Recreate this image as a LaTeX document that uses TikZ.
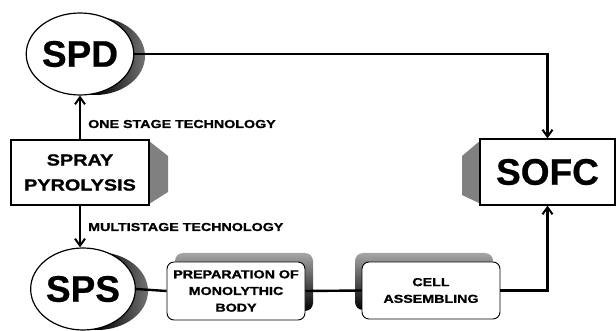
\documentclass[tikz,border=0pt]{standalone}
\usepackage{fontspec}
\setmainfont{Liberation Sans}
\newfontfamily\widefont[FakeStretch=1.24,FakeBold=1.2]{Liberation Sans Bold}
\newfontfamily\bigfont[FakeBold=0.6]{Liberation Sans Bold}
\usetikzlibrary{shapes.geometric,arrows.meta,shadings}
\begin{document}
\begin{tikzpicture}[x=1pt,y=-1pt,
  line/.style={line width=2.4pt},
  arr/.style={line, -{Straight Barb[length=7pt,width=10pt,line width=2pt]}},
  oval/.style={ellipse, draw, line width=1.2pt, fill=white, inner sep=0pt, font=\bigfont\fontsize{37}{40}\selectfont},
  bigbox/.style={rectangle, draw, line width=1.2pt, fill=white, inner sep=0pt},
  roundbox/.style={rectangle, rounded corners=7pt, draw, line width=0.9pt, fill=white, inner sep=0pt, align=center, font=\widefont\fontsize{11.5}{16.7}\selectfont},
  lbl/.style={anchor=base west, inner sep=0pt, font=\widefont\fontsize{11.5}{13}\selectfont}]
\useasboundingbox (0,0) rectangle (616,331);
% shadows
\shade[left color=black, right color=black!55, middle color=black] (95,56) ellipse [x radius=50, y radius=39];
\shade[left color=black, right color=black!55, middle color=black] (97,291) ellipse [x radius=51, y radius=39];
\fill[black!50] (149,141) -- (168,156) -- (168,192) -- (149,204) -- cycle;
\fill[black!50] (481,140) -- (462,156) -- (462,195) -- (481,204) -- cycle;
\shade[top color=black!35, bottom color=black, rounded corners=8pt] (175,253) rectangle (313,311);
\shade[top color=black!35, bottom color=black, rounded corners=8pt] (355,253) rectangle (493,310);
% nodes
\node[oval, minimum width=98pt, minimum height=82pt] (spd) at (80,54) {SPD};
\node[oval, minimum width=102pt, minimum height=82pt] (sps) at (83,289) {SPS};
\node[bigbox, minimum width=138pt, minimum height=65pt, align=center,
  font=\widefont\fontsize{16}{25}\selectfont] (spray) at (80,172.5) {SPRAY\\PYROLYSIS};
\node[bigbox, minimum width=135pt, minimum height=66pt,
  font=\bigfont\fontsize{37}{40}\selectfont] (sofc) at (547.5,172) {SOFC};
\node[roundbox, minimum width=138pt, minimum height=58pt] (prep) at (236,291) {PREPARATION OF\\MONOLYTHIC\\BODY};
\node[roundbox, minimum width=138pt, minimum height=57pt] (cell) at (431,290.5) {CELL\\ASSEMBLING};
\node[lbl] (l1) at (88,128) {ONE STAGE TECHNOLOGY};
\node[lbl] (l2) at (88,231) {MULTISTAGE TECHNOLOGY};
% connectors
\draw[arr] (spd.east) -| (sofc.north);
\draw[arr] (spray.north) -- (spray.north |- spd.south);
\draw[arr] (spray.south) -- (spray.south |- sps.north);
\draw[line] (sps.east) -- (prep.west);
\draw[line] (prep.east) -- (cell.west);
\draw[arr] (cell.east) -| (sofc.south);
\end{tikzpicture}
\end{document}
